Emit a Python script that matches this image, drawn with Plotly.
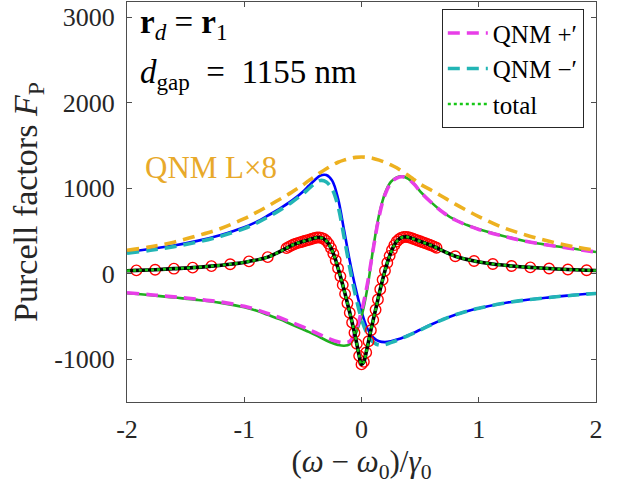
import plotly.graph_objects as go

# ---------------- data ----------------
x_grid = [-2.0, -1.8, -1.6, -1.4, -1.2, -1.0, -0.9, -0.8, -0.7, -0.6, -0.5, -0.45, -0.4,
          -0.35, -0.3, -0.25, -0.2, -0.15, -0.1, -0.05, 0.0, 0.05, 0.1, 0.15, 0.2, 0.25,
          0.3, 0.35, 0.4, 0.45, 0.5, 0.6, 0.7, 0.8, 0.9, 1.0, 1.2, 1.4, 1.6, 1.8, 2.0]

blue_solid = [255, 290, 330, 385, 455, 545, 605, 680, 760, 850, 960, 1030, 1095,
              1150, 1155, 1090, 880, 520, 150, -170, -440, -640, -745, -790, -800, -790,
              -770, -748, -718, -688, -655, -590, -530, -478, -437, -402, -347, -306, -276, -250, -228]

cyan_qnm_minus = [240, 275, 318, 372, 440, 530, 590, 662, 742, 832, 935, 995, 1055,
                  1092, 1075, 990, 790, 440, 70, -260, -530, -705, -800, -835, -828, -805,
                  -780, -752, -722, -692, -658, -593, -532, -480, -439, -404, -348, -307, -277, -251, -230]

green_solid = [-227, -250, -278, -305, -340, -392, -430, -480, -530, -590, -650, -680, -712,
               -745, -780, -810, -832, -842, -825, -705, -500, -170, 300, 690, 940, 1075,
               1128, 1140, 1110, 1050, 965, 830, 715, 630, 570, 520, 445, 382, 335, 295, 255]

magenta_qnm_plus = [-222, -245, -270, -298, -330, -380, -418, -465, -512, -566, -622, -652, -684,
                    -714, -745, -775, -795, -805, -790, -670, -440, -120, 290, 670, 925, 1060,
                    1120, 1135, 1108, 1048, 962, 828, 714, 629, 569, 519, 444, 381, 334, 294, 254]

orange_qnm_L8 = [275, 315, 370, 445, 530, 645, 715, 790, 870, 950, 1040, 1090, 1135,
                 1185, 1230, 1270, 1305, 1330, 1350, 1362, 1366, 1362, 1350, 1330, 1305, 1275,
                 1240, 1195, 1150, 1100, 1050, 975, 895, 815, 740, 670, 545, 455, 380, 320, 275]

total_x = [-2.0, -1.92, -1.76, -1.6, -1.44, -1.28, -1.12, -0.96, -0.8,
           -0.64, -0.62, -0.60, -0.58, -0.56, -0.54, -0.52, -0.50, -0.48, -0.46, -0.44, -0.42,
           -0.40, -0.38, -0.36, -0.34, -0.32, -0.30, -0.28, -0.26, -0.24, -0.22, -0.20, -0.18,
           -0.16, -0.14, -0.12, -0.10, -0.08, -0.06, -0.04, -0.02, 0.00, 0.02, 0.04, 0.06,
           0.08, 0.10, 0.12, 0.14, 0.16, 0.18, 0.20, 0.22, 0.24, 0.26, 0.28, 0.30,
           0.32, 0.34, 0.36, 0.38, 0.40, 0.42, 0.44, 0.46, 0.48, 0.50, 0.52, 0.54,
           0.56, 0.58, 0.60, 0.62, 0.64,
           0.8, 0.96, 1.12, 1.28, 1.44, 1.6, 1.76, 1.92, 2.0]
total_y = [35, 40, 48, 60, 72, 90, 112, 145, 195,
           300, 315, 330, 342, 353, 362, 370, 378, 386, 394, 402, 410,
           418, 424, 425, 420, 408, 385, 350, 300, 235, 158, 65, -30,
           -130, -235, -345, -455, -570, -690, -820, -960, -1060, -1030, -920, -790,
           -660, -540, -420, -300, -180, -70, 35, 130, 210, 280, 335, 378,
           405, 422, 430, 432, 428, 420, 410, 400, 390, 380, 370, 360,
           350, 340, 330, 318, 305,
           205, 150, 115, 92, 75, 62, 50, 42, 38]

x_tick_vals = [-2, -1, 0, 1, 2]
x_tick_text = ["-2", "-1", "0", "1", "2"]
y_tick_vals = [-1000, 0, 1000, 2000, 3000]
y_tick_text = ["-1000", "0", "1000", "2000", "3000"]

# ---------------- figure ----------------
FONT = "Liberation Serif"
TXT = "#262626"
fig = go.Figure()

fig.add_trace(go.Scatter(x=x_grid, y=blue_solid, mode="lines", showlegend=False,
                         line=dict(color="#0000FF", width=2.6, shape="spline")))
fig.add_trace(go.Scatter(x=x_grid, y=green_solid, mode="lines", showlegend=False,
                         line=dict(color="#1FAF1F", width=2.6, shape="spline")))
fig.add_trace(go.Scatter(x=x_grid, y=cyan_qnm_minus, mode="lines", name="QNM −′", legendrank=2,
                         line=dict(color="#22B5B5", width=3.6, dash="12px,7px", shape="spline")))
fig.add_trace(go.Scatter(x=x_grid, y=magenta_qnm_plus, mode="lines", name="QNM +′", legendrank=1,
                         line=dict(color="#E83EE8", width=3.6, dash="12px,7px", shape="spline")))
fig.add_trace(go.Scatter(x=x_grid, y=orange_qnm_L8, mode="lines", showlegend=False,
                         line=dict(color="#EDB120", width=3.6, dash="12px,7px", shape="spline")))
fig.add_trace(go.Scatter(x=total_x[1:-1], y=total_y[1:-1], mode="markers", showlegend=False,
                         marker=dict(symbol="circle-open", size=10.5, color="#FF0000",
                                     line=dict(color="#FF0000", width=1.4))))
fig.add_trace(go.Scatter(x=total_x, y=total_y, mode="lines", showlegend=False,
                         line=dict(color="#000000", width=3.6, shape="spline")))
fig.add_trace(go.Scatter(x=total_x, y=total_y, mode="lines", name="total", legendrank=3,
                         line=dict(color="#16C716", width=2.6, dash="dot", shape="spline")))

axis_common = dict(showline=True, linecolor="#4d4d4d", linewidth=1, mirror="allticks",
                   ticks="inside", ticklen=5, tickcolor="#4d4d4d", showgrid=False,
                   zeroline=False, automargin=False,
                   tickfont=dict(family=FONT, size=26, color=TXT))

fig.update_xaxes(range=[-2, 2], tickvals=x_tick_vals, ticktext=x_tick_text,
                 title=dict(text="(<i>ω</i> − <i>ω</i><sub>0</sub>)/<i>γ</i><sub>0</sub>",
                            font=dict(family=FONT, size=31, color=TXT), standoff=6),
                 ticklabelstandoff=4, **axis_common)
fig.update_yaxes(range=[-1500, 3180], tickvals=y_tick_vals, ticktext=y_tick_text,
                 title=dict(text="Purcell factors <i>F</i><sub>P</sub>",
                            font=dict(family=FONT, size=34, color=TXT), standoff=6),
                 ticklabelstandoff=6, **axis_common)

fig.add_annotation(xref="paper", yref="paper", x=0.024, y=0.945, xanchor="left", yanchor="middle",
                   text="<b>r</b><sub><i>d</i></sub> = <b>r</b><sub>1</sub>", showarrow=False,
                   font=dict(family=FONT, size=33, color="#000000"))
fig.add_annotation(xref="paper", yref="paper", x=0.024, y=0.82, xanchor="left", yanchor="middle",
                   text="<i>d</i><sub>gap</sub>\u2002=\u20021155 nm", showarrow=False,
                   font=dict(family=FONT, size=33, color="#000000"))
fig.add_annotation(xref="paper", yref="paper", x=0.034, y=0.5875, xanchor="left", yanchor="middle",
                   text="QNM L×8", showarrow=False,
                   font=dict(family=FONT, size=31, color="#E8A92A"))

fig.update_layout(
    width=618, height=487,
    margin=dict(l=127, r=22, t=2, b=85),
    paper_bgcolor="white", plot_bgcolor="white",
    legend=dict(x=0.974, y=0.982, xanchor="right", yanchor="top",
                bgcolor="white", bordercolor="#262626", borderwidth=1,
                font=dict(family=FONT, size=25, color="#000000"),
                traceorder="normal", tracegroupgap=0, itemwidth=40),
    showlegend=True,
)

fig.write_html("out.html", config={"displayModeBar": False},
               post_script="document.body.style.margin='0';")
